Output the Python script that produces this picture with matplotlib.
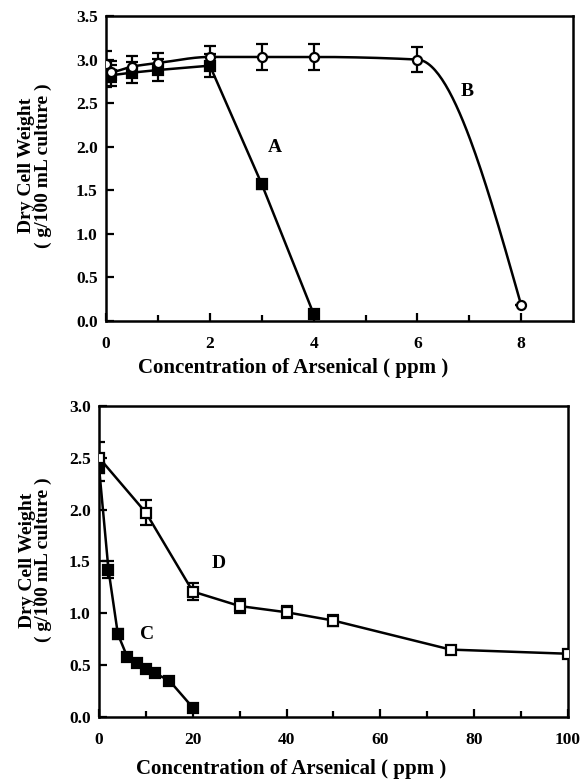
import numpy as np
import matplotlib.pyplot as plt

plt.rcParams["font.family"] = ["Liberation Serif", "DejaVu Serif"]
plt.rcParams["font.weight"] = "bold"

# ----------------------
# data
# ----------------------
# top panel
a_x = [0, 0.1, 0.5, 1, 2, 3, 4]
a_y = [2.80, 2.82, 2.85, 2.88, 2.93, 1.57, 0.08]
a_err = [0.12, 0.12, 0.12, 0.13, 0.13, 0.05, 0.0]

b_x = [0, 0.1, 0.5, 1, 2, 3, 4, 6, 8]
b_y = [2.95, 2.86, 2.92, 2.96, 3.03, 3.03, 3.03, 3.00, 0.18]
b_err = [0.15, 0.12, 0.12, 0.12, 0.13, 0.15, 0.15, 0.14, 0.0]

# bottom panel
c_x = [0, 2, 4, 6, 8, 10, 12, 15, 20]
c_y = [2.40, 1.42, 0.80, 0.58, 0.52, 0.46, 0.42, 0.35, 0.09]
c_err = [0.12, 0.08, 0.05, 0.0, 0.0, 0.0, 0.0, 0.0, 0.03]

d_x = [0, 10, 20, 30, 40, 50, 75, 100]
d_y = [2.50, 1.97, 1.21, 1.07, 1.01, 0.93, 0.65, 0.61]
d_err = [0.15, 0.12, 0.08, 0.07, 0.06, 0.05, 0.03, 0.03]

labels_top = {"A": (3.25, 1.99), "B": (6.95, 2.63)}
labels_bot = {"C": (10.2, 0.80), "D": (25.5, 1.48)}


def pchip_line(x, y, n=60):
    """smooth monotone curve through the points (only for drawing the line)"""
    x = np.asarray(x, float)
    y = np.asarray(y, float)
    h = np.diff(x)
    d = np.diff(y) / h
    m = np.zeros_like(y)
    for k in range(1, len(x) - 1):
        if d[k - 1] * d[k] > 0:
            w1 = 2 * h[k] + h[k - 1]
            w2 = h[k] + 2 * h[k - 1]
            m[k] = (w1 + w2) / (w1 / d[k - 1] + w2 / d[k])

    def end(h0, h1, d0, d1):
        v = ((2 * h0 + h1) * d0 - h0 * d1) / (h0 + h1)
        if np.sign(v) != np.sign(d0):
            return 0.0
        if np.sign(d0) != np.sign(d1) and abs(v) > 3 * abs(d0):
            return 3 * d0
        return v

    m[0] = end(h[0], h[1], d[0], d[1])
    m[-1] = end(h[-1], h[-2], d[-1], d[-2])
    xs, ys = [], []
    for k in range(len(h)):
        t = np.linspace(0, 1, n)
        h00 = 2 * t**3 - 3 * t**2 + 1
        h10 = t**3 - 2 * t**2 + t
        h01 = -2 * t**3 + 3 * t**2
        h11 = t**3 - t**2
        xs.append(x[k] + t * h[k])
        ys.append(h00 * y[k] + h10 * h[k] * m[k] + h01 * y[k + 1] + h11 * h[k] * m[k + 1])
    return np.concatenate(xs), np.concatenate(ys)


def draw_series(ax, x, y, err, marker, face, smooth=False):
    if smooth:
        lx, ly = pchip_line(x, y)
    else:
        lx, ly = x, y
    ax.plot(lx, ly, color="black", lw=1.8, zorder=2)
    ax.errorbar(x, y, yerr=err, fmt="none", ecolor="black", elinewidth=1.6,
                capsize=4, capthick=1.6, zorder=3)
    ax.plot(x, y, linestyle="none", marker=marker, ms=6.5, mfc=face,
            mec="black", mew=1.6, zorder=4)


def style_axes(ax, xlab_pos, ylab_pos):
    for s in ax.spines.values():
        s.set_linewidth(1.8)
    ax.tick_params(which="both", direction="in", top=False, right=False,
                   labelsize=12.5, width=1.6)
    ax.tick_params(axis="x", pad=11)
    ax.tick_params(axis="y", pad=6)
    ax.tick_params(which="major", length=6)
    ax.tick_params(which="minor", length=4)
    ax.set_ylabel("Dry Cell Weight\n( g/100 mL culture )", fontsize=14,
                  fontweight="bold", linespacing=0.95)
    ax.set_xlabel("Concentration of Arsenical ( ppm )", fontsize=15,
                  fontweight="bold")
    ax.xaxis.set_label_coords(*xlab_pos)
    ax.yaxis.set_label_coords(*ylab_pos)
    for lab in ax.get_xticklabels() + ax.get_yticklabels():
        lab.set_fontweight("bold")


fig = plt.figure(figsize=(5.83, 7.80), dpi=100)

# ----------------------
# top panel
# ----------------------
ax1 = fig.add_axes([0.182, 0.5885, 0.801, 0.391])
draw_series(ax1, a_x, a_y, a_err, "s", "black")
draw_series(ax1, b_x, b_y, b_err, "o", "white", smooth=True)
ax1.set_xlim(0, 9)
ax1.set_ylim(0, 3.5)
ax1.set_xticks([0, 2, 4, 6, 8])
ax1.set_xticks([1, 3, 5, 7], minor=True)
ax1.set_yticks(np.arange(0, 3.51, 0.5))
ax1.set_yticklabels([f"{v:.1f}" for v in np.arange(0, 3.51, 0.5)])
for k, (px, py) in labels_top.items():
    ax1.text(px, py, k, fontsize=14, fontweight="bold", ha="center", va="center")
style_axes(ax1, (0.40, -0.12), (-0.116, 0.51))

# ----------------------
# bottom panel
# ----------------------
ax2 = fig.add_axes([0.170, 0.0808, 0.804, 0.3987])
draw_series(ax2, c_x, c_y, c_err, "s", "black")
draw_series(ax2, d_x, d_y, d_err, "s", "white")
ax2.set_xlim(0, 100)
ax2.set_ylim(0, 3.0)
ax2.set_xticks([0, 20, 40, 60, 80, 100])
ax2.set_xticks([10, 30, 50, 70, 90], minor=True)
ax2.set_yticks(np.arange(0, 3.01, 0.5))
ax2.set_yticklabels([f"{v:.1f}" for v in np.arange(0, 3.01, 0.5)])
for k, (px, py) in labels_bot.items():
    ax2.text(px, py, k, fontsize=14, fontweight="bold", ha="center", va="center")
style_axes(ax2, (0.41, -0.135), (-0.100, 0.505))

fig.savefig("out.png", dpi=100)
